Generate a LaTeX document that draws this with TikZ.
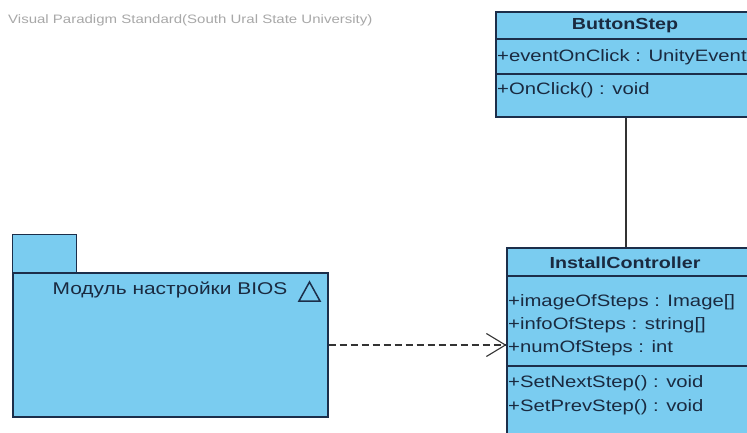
\documentclass[tikz,border=0pt]{standalone}
\usepackage{fontspec}
\setmainfont[FakeStretch=1.23]{Liberation Sans}
\usetikzlibrary{arrows.meta,positioning}
\definecolor{vpfill}{HTML}{7ACCF0}
\definecolor{vpline}{HTML}{1C2E4A}
\definecolor{vptext}{HTML}{1A2A40}
\definecolor{wmgray}{HTML}{A8A8A8}
\definecolor{wire}{HTML}{333333}
\tikzset{
  classbox/.style={rectangle, draw=vpline, fill=vpfill, line width=1.1pt, inner sep=0pt},
  sepline/.style={draw=vpline, line width=1.1pt},
  cname/.style={font=\fontsize{16}{18}\selectfont\bfseries, text=vptext, inner sep=0pt},
  member/.style={font=\fontsize{16.5}{18}\selectfont, text=vptext, anchor=west, inner sep=0pt},
  wmark/.style={font=\fontsize{12.2}{14}\selectfont, text=wmgray, anchor=west, inner sep=0pt},
  assoc/.style={wire, line width=1.1pt},
  dep/.style={wire, line width=1.1pt, dash pattern=on 7pt off 4pt,
    -{Straight Barb[length=19pt, width=23pt]}},
}

\begin{document}
\begin{tikzpicture}[x=1pt, y=-1pt]
  \useasboundingbox (0,0) rectangle (747,432);
  \clip (0,0) rectangle (747,432);
  \fill[white] (0,0) rectangle (747,432);
  \node[wmark] (wm) at (8,20) {Visual Paradigm Standard(South Ural State University)};
  % package
  \node[classbox, minimum width=315pt, minimum height=144pt] (pkg) at (170.5,345) {};
  \draw[classbox] (pkg.north west) rectangle ++(64,-38);
  \node[member, anchor=center, font=\fontsize{17}{18}\selectfont] (pkgname) at (170,290) {Модуль настройки BIOS};
  \draw[vpline, line width=1.5pt, line join=miter] (299,301) -- (320,301) -- (309.5,282) -- cycle;
  % ButtonStep
  \node[classbox, minimum width=260pt, minimum height=105pt] (btn) at (626,64.5) {};
  \node[cname] (btnN) at (625,26) {ButtonStep};
  \draw[sepline] (496,39) -- (756,39);
  \node[member] (btnA1) at (497,57) {+eventOnClick : UnityEvent};
  \draw[sepline] (496,74) -- (756,74);
  \node[member] (btnO1) at (497,90) {+OnClick() : void};
  % InstallController
  \node[classbox, minimum width=253pt, minimum height=197pt] (ic) at (633.5,346.5) {};
  \node[cname] (icN) at (625,263) {InstallController};
  \draw[sepline] (507,276) -- (760,276);
  \foreach \txt [count=\i] in {{+imageOfSteps : Image[]}, {+infoOfSteps : string[]}, {+numOfSteps : int}}
    \node[member] (icA\i) at (508,279+23*\i) {\txt};
  \draw[sepline] (507,366) -- (760,366);
  \foreach \txt [count=\i] in {{+SetNextStep() : void}, {+SetPrevStep() : void}}
    \node[member] (icO\i) at (508,359+24*\i) {\txt};
  % connectors
  \draw[assoc] (btn.south) -- (btn.south |- ic.north);
  \draw[dep] (pkg.east) -- (pkg.east -| ic.west);
\end{tikzpicture}
\end{document}
